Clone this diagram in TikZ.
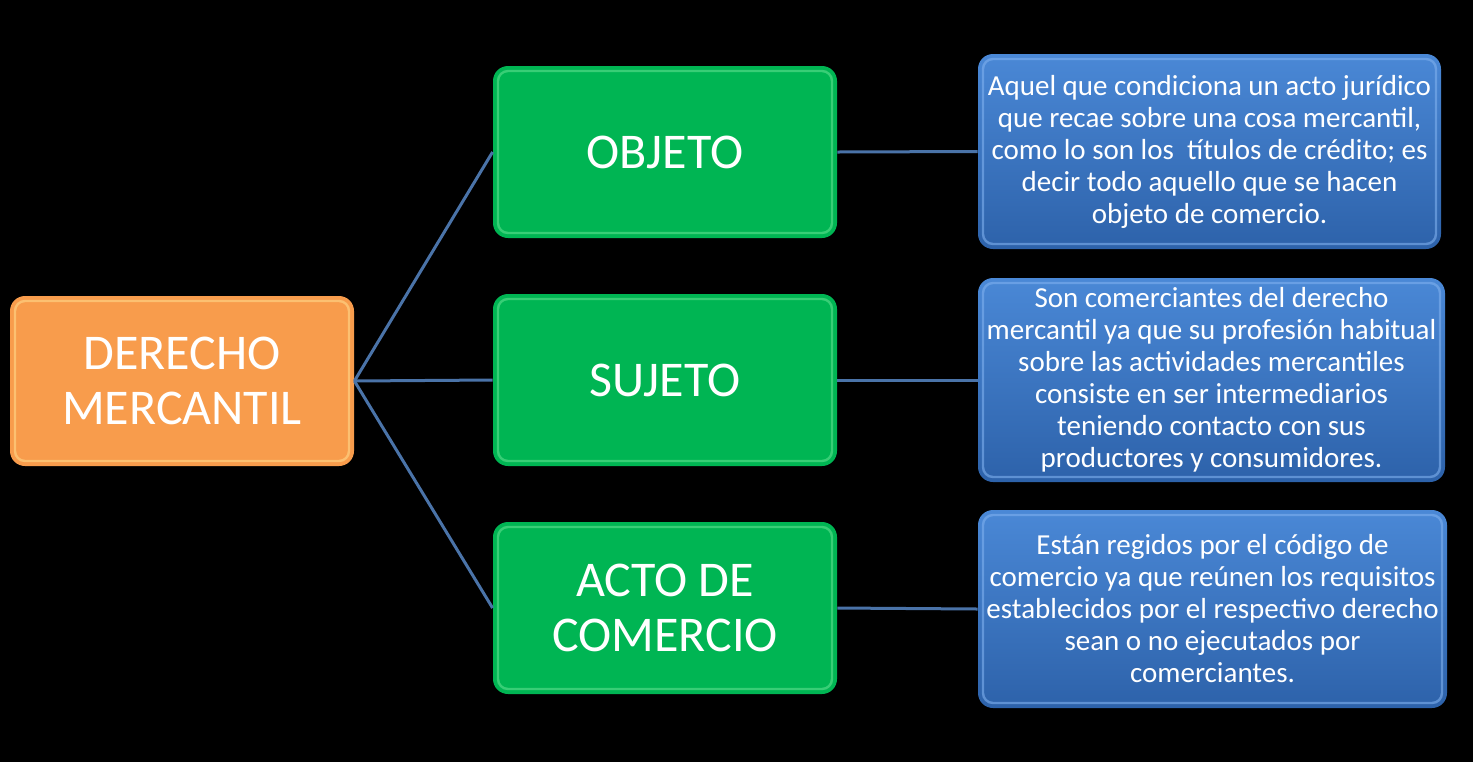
\documentclass[tikz,border=0pt]{standalone}
\usepackage{fontspec}
\setmainfont{Carlito}
\definecolor{orangefill}{HTML}{F89C4C}
\definecolor{orangehi}{HTML}{FFD98A}
\definecolor{greenfill}{HTML}{00B553}
\definecolor{greenhi}{HTML}{5EE08E}
\definecolor{bluetop}{HTML}{4A88D6}
\definecolor{bluebot}{HTML}{2D62AA}
\definecolor{bluehi}{HTML}{7FB0EE}
\definecolor{linkcol}{HTML}{4A73A8}
\tikzset{
  bevel/.style={path picture={\draw[#1, line width=1.2pt, rounded corners=5pt, opacity=0.6]
      ([shift={(2.5pt,-2.5pt)}]path picture bounding box.north west) rectangle
      ([shift={(-2.5pt,2.5pt)}]path picture bounding box.south east);}},
  basebox/.style={rounded corners=7.5pt, text=white, align=center, inner sep=1pt},
  obox/.style={basebox, fill=orangefill, bevel=orangehi, minimum width=172pt, minimum height=85pt, font=\fontsize{25}{27.5}\selectfont},
  gbox/.style={basebox, fill=greenfill, bevel=greenhi, minimum width=172pt, minimum height=86pt, font=\fontsize{25}{27.5}\selectfont},
  bbox/.style={basebox, top color=bluetop, bottom color=bluebot, bevel=bluehi, font=\fontsize{14.5}{16}\selectfont},
  link/.style={draw=linkcol, line width=1.5pt}
}
\begin{document}
\begin{tikzpicture}[x=0.5pt,y=-0.5pt]
\fill[black] (0,0) rectangle (1473,762);
\useasboundingbox (0,0) rectangle (1473,762);
\node[obox] (dm) at (182,381) {DERECHO\\MERCANTIL};
\node[gbox] (ob) at (665,152) {OBJETO};
\node[gbox] (su) at (665,380) {SUJETO};
\node[gbox] (ac) at (665,608) {ACTO DE\\COMERCIO};
\node[bbox, minimum width=231.5pt, minimum height=97.5pt] (b1) at (1209.5,151.5) {Aquel que condiciona un acto jurídico\\que recae sobre una cosa mercantil,\\como lo son los \ títulos de crédito; es\\decir todo aquello que se hacen\\objeto de comercio.};
\node[bbox, minimum width=233.5pt, minimum height=102pt] (b2) at (1211.5,380) {Son comerciantes del derecho\\mercantil ya que su profesión habitual\\sobre las actividades mercantiles\\consiste en ser intermediarios\\teniendo contacto con sus\\productores y consumidores.};
\node[bbox, minimum width=234.5pt, minimum height=99pt] (b3) at (1212.5,609) {Están regidos por el código de\\comercio ya que reúnen los requisitos\\establecidos por el respectivo derecho\\sean o no ejecutados por\\comerciantes.};
\draw[link] (dm.east) -- (ob.west);
\draw[link] (dm.east) -- (su.west);
\draw[link] (dm.east) -- (ac.west);
\draw[link] (ob.east) -- (b1.west);
\draw[link] (su.east) -- (b2.west);
\draw[link] (ac.east) -- (b3.west);
\end{tikzpicture}
\end{document}
